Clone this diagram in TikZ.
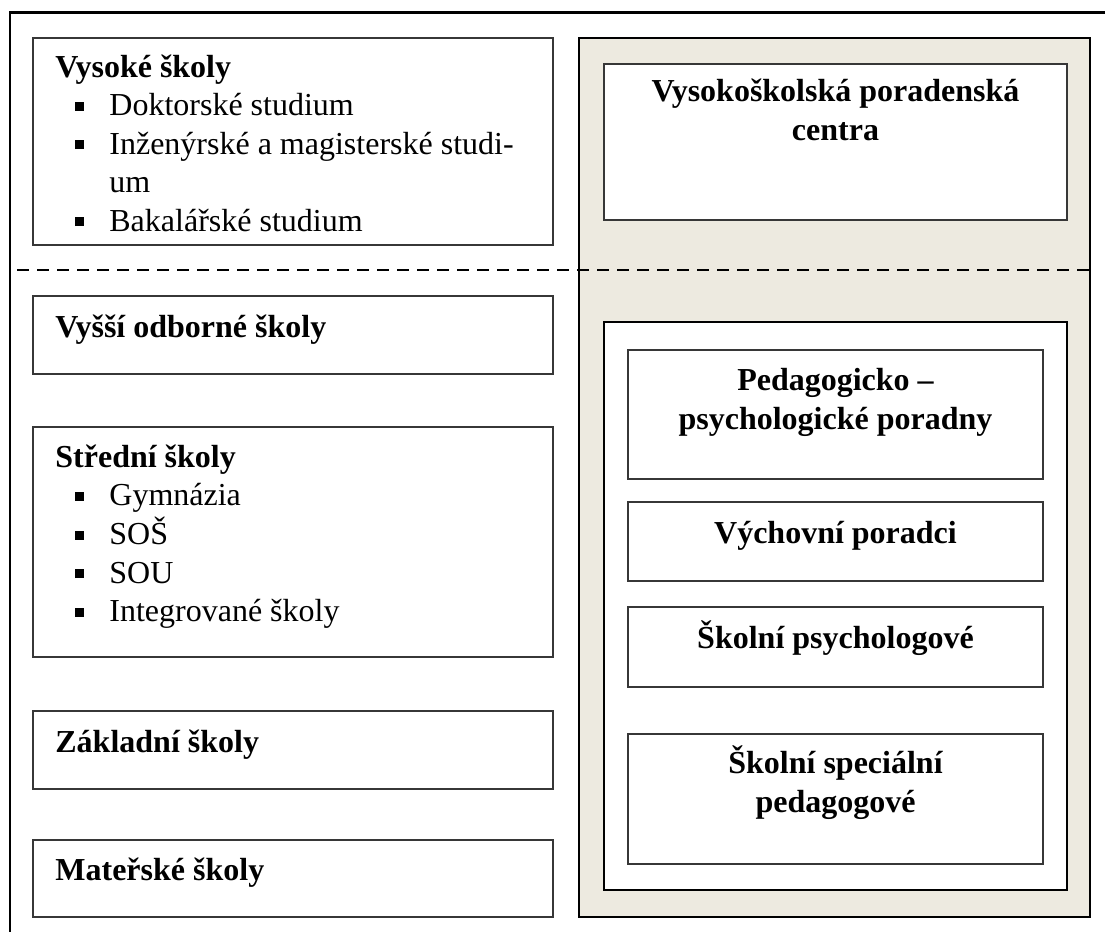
\documentclass[tikz,border=0pt]{standalone}
\usepackage{fontspec}
\setmainfont{Liberation Serif}
\definecolor{panelbeige}{RGB}{237, 234, 224}
\definecolor{ramgray}{RGB}{55, 55, 55}
\usetikzlibrary{calc}

\newcommand{\odr}{\makebox[27pt][l]{\hspace{10pt}\raisebox{2.4pt}{\rule{4.5pt}{4.5pt}}}}

\begin{document}
\begin{tikzpicture}[x=0.5pt, y=-0.5pt,
  ramec/.style={draw=ramgray, line width=0.8pt},
  levytext/.style={anchor=base west, inner sep=0pt, font=\fontsize{16}{19.25}\selectfont},
  pravytext/.style={anchor=base, inner sep=0pt, font=\fontsize{16}{19.5}\selectfont\bfseries}]
  \useasboundingbox (0,0) rectangle (1105,932);

  % Outer frame
  \draw[line width=1.3pt] (10,932) -- (10,12.5) -- (1105,12.5);

  % Left column
  \draw[ramec] (33,38) rectangle (553,245);
  \node[levytext] (vs-text) at (55,77) {\begin{tabular}[t]{@{}l@{}}
    \textbf{Vysoké školy}\\
    \odr Doktorské studium\\
    \odr Inženýrské a magisterské studi-\\
    \hspace*{27pt}um\\
    \odr Bakalářské studium
  \end{tabular}};

  \draw[ramec] (33,296) rectangle (553,374);
  \node[levytext] (vos-text) at (55,337) {\textbf{Vyšší odborné školy}};

  \draw[ramec] (33,427) rectangle (553,657);
  \node[levytext] (ss-text) at (55,467) {\begin{tabular}[t]{@{}l@{}}
    \textbf{Střední školy}\\
    \odr Gymnázia\\
    \odr SOŠ\\
    \odr SOU\\
    \odr Integrované školy
  \end{tabular}};

  \draw[ramec] (33,711) rectangle (553,789);
  \node[levytext] (zs-text) at (55,752) {\textbf{Základní školy}};

  \draw[ramec] (33,840) rectangle (553,917);
  \node[levytext] (ms-text) at (55,880) {\textbf{Mateřské školy}};

  % Right panel
  \fill[panelbeige] (579,38) rectangle (1090,917);
  \draw[line width=1.2pt] (579,38) rectangle (1090,917);

  \fill[white] (604,64) rectangle (1067,220);
  \draw[ramec] (604,64) rectangle (1067,220);
  \node[pravytext] (vpc-text) at (835.5,101) {\begin{tabular}[t]{@{}c@{}}
    Vysokoškolská poradenská\\ centra
  \end{tabular}};

  \fill[white] (604,322) rectangle (1067,890);
  \draw[line width=1.4pt] (604,322) rectangle (1067,890);

  \draw[ramec] (628,350) rectangle (1043,479);
  \node[pravytext] (ppp-text) at (835.5,390) {\begin{tabular}[t]{@{}c@{}}
    Pedagogicko –\\ psychologické poradny
  \end{tabular}};

  \draw[ramec] (628,502) rectangle (1043,581);
  \node[pravytext] (vp-text) at (835.5,543) {Výchovní poradci};

  \draw[ramec] (628,607) rectangle (1043,687);
  \node[pravytext] (sp-text) at (835.5,648) {Školní psychologové};

  \draw[ramec] (628,734) rectangle (1043,864);
  \node[pravytext] (ssp-text) at (835.5,773) {\begin{tabular}[t]{@{}c@{}}
    Školní speciální\\ pedagogové
  \end{tabular}};

  % Divider
  \draw[line width=1.2pt, dash pattern=on 6pt off 4pt] (17,270) -- (1095,270);
\end{tikzpicture}
\end{document}
